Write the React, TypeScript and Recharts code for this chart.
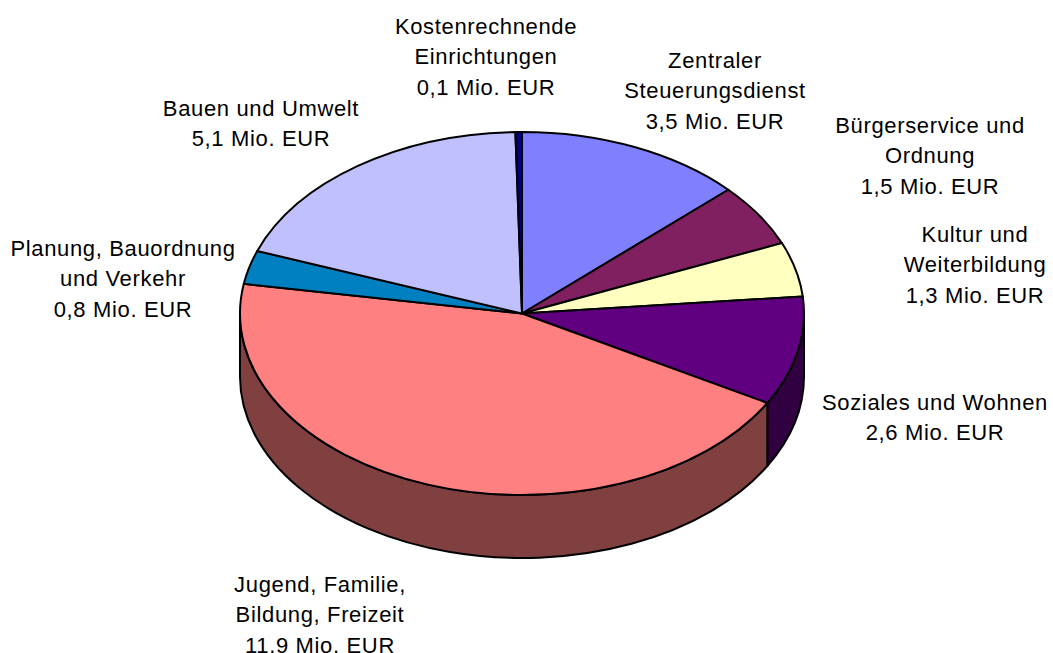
import React from "react";
import { PieChart, Pie } from "recharts";

const categories = [
  "Zentraler Steuerungsdienst",
  "Bürgerservice und Ordnung",
  "Kultur und Weiterbildung",
  "Soziales und Wohnen",
  "Jugend, Familie, Bildung, Freizeit",
  "Planung, Bauordnung und Verkehr",
  "Bauen und Umwelt",
  "Kostenrechnende Einrichtungen",
];
const values = [3.5, 1.5, 1.3, 2.6, 11.9, 0.8, 5.1, 0.1];
const valueLabels = ["3,5", "1,5", "1,3", "2,6", "11,9", "0,8", "5,1", "0,1"];
const labelLines = [
  ["Zentraler", "Steuerungsdienst"],
  ["Bürgerservice und", "Ordnung"],
  ["Kultur und", "Weiterbildung"],
  ["Soziales und Wohnen"],
  ["Jugend, Familie,", "Bildung, Freizeit"],
  ["Planung, Bauordnung", "und Verkehr"],
  ["Bauen und Umwelt"],
  ["Kostenrechnende", "Einrichtungen"],
];
const topColors = ["#8080FF", "#802060", "#FFFFC0", "#600080", "#FF8080", "#0080C0", "#C0C0FF", "#000080"];
const wallColors = ["#404080", "#401030", "#808060", "#300040", "#804040", "#004060", "#606080", "#000040"];

const data = categories.map((name, i) => ({
  name,
  value: values[i],
  fill: topColors[i],
  wall: wallColors[i],
  lines: [...labelLines[i], `${valueLabels[i]} Mio. EUR`],
}));

const CX = 522;
const CY = 313.5;
const RX = 282;
const SQUASH = 181.5 / 282;
const DEPTH = 63;
const LINE_STEP = 30.4;

// Centre x and first-line baseline of each label block, in data order.
const labelAnchors = [
  [715, 68],
  [930, 133],
  [975, 242],
  [935, 410],
  [320, 592],
  [123, 256],
  [261, 116],
  [486, 34],
];

const pt = (cx: number, cy: number, r: number, deg: number) => {
  const a = (deg * Math.PI) / 180;
  return [cx + r * Math.cos(a), cy - r * SQUASH * Math.sin(a)];
};

const renderSector = (props: any) => {
  const { cx, cy, outerRadius: r, startAngle, endAngle, fill, payload } = props;
  const wallFill = payload?.wall ?? props.wall;
  const ry = r * SQUASH;
  const [sx, sy] = pt(cx, cy, r, startAngle);
  const [ex, ey] = pt(cx, cy, r, endAngle);
  const large = Math.abs(startAngle - endAngle) > 180 ? 1 : 0;
  const top = `M${cx},${cy}L${sx},${sy}A${r},${ry} 0 ${large} 1 ${ex},${ey}Z`;
  const hi = Math.min(startAngle, 0);
  const lo = Math.max(endAngle, -180);
  let wall = null;
  if (hi > lo) {
    const [ax, ay] = pt(cx, cy, r, hi);
    const [bx, by] = pt(cx, cy, r, lo);
    const d = `M${ax},${ay}A${r},${ry} 0 0 1 ${bx},${by}L${bx},${by + DEPTH}A${r},${ry} 0 0 0 ${ax},${ay + DEPTH}Z`;
    wall = <path d={d} fill={wallFill} stroke="#000" strokeWidth={2} strokeLinejoin="round" />;
  }
  return (
    <g>
      {wall}
      <path d={top} fill={fill} stroke="#000" strokeWidth={2} strokeLinejoin="round" />
    </g>
  );
};

const renderLabel = (props: any) => {
  const { index } = props;
  const [x, y] = labelAnchors[index];
  return (
    <text
      key={index}
      x={x}
      y={y}
      textAnchor="middle"
      fontFamily="'Liberation Sans', Arial, sans-serif"
      fontSize={22}
      letterSpacing={0.65}
      fill="#000"
    >
      {data[index].lines.map((line: string, i: number) => (
        <tspan key={i} x={x} y={y + i * LINE_STEP}>
          {line}
        </tspan>
      ))}
    </text>
  );
};

export default function App() {
  return (
    <div style={{ position: "absolute", left: 0, top: 0, width: 1053, height: 653, background: "#fff" }}>
      <PieChart width={1053} height={653} margin={{ top: 0, right: 0, bottom: 0, left: 0 }}>
        <Pie
          data={data}
          dataKey="value"
          nameKey="name"
          cx={CX}
          cy={CY}
          innerRadius={0}
          outerRadius={RX}
          startAngle={90}
          endAngle={-270}
          paddingAngle={0}
          stroke="#000"
          isAnimationActive={false}
          shape={renderSector}
          label={renderLabel}
          labelLine={false}
          rootTabIndex={-1}
        />
      </PieChart>
    </div>
  );
}
